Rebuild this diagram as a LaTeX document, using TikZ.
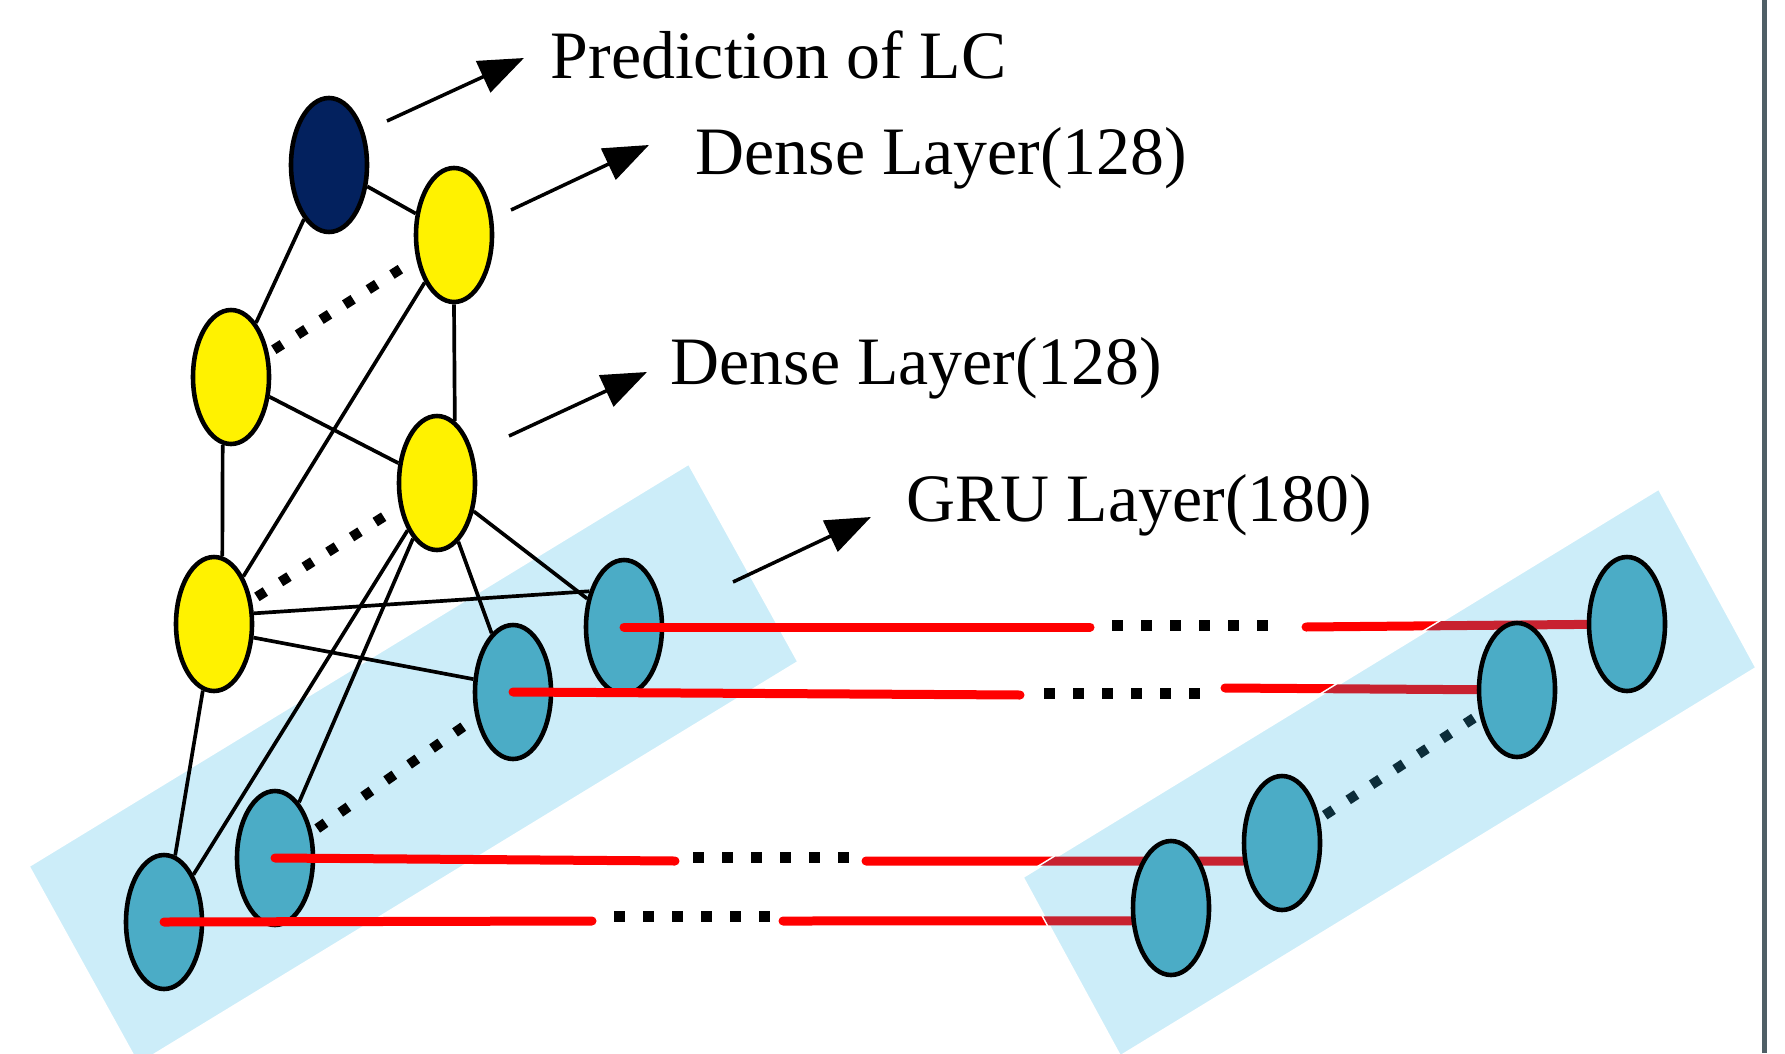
\documentclass[tikz,border=0pt]{standalone}
\usepackage{fontspec}
\setmainfont{Liberation Serif}
\usetikzlibrary{arrows.meta,shapes.geometric}

\definecolor{outblue}{RGB}{3,33,94}
\definecolor{grublue}{RGB}{75,172,198}
\definecolor{bandblue}{RGB}{204,237,249}
\definecolor{seqred}{RGB}{255,0,0}
\definecolor{seqdark}{RGB}{200,34,48}
\definecolor{dotteal}{RGB}{12,45,58}
\definecolor{rulegray}{RGB}{79,95,102}

\pgfdeclarelayer{front}
\pgfsetlayers{main,front}

\begin{document}
\begin{tikzpicture}[
    neuron/.style={ellipse, draw=black, line width=1.3pt, minimum width=0.76cm, minimum height=1.34cm, inner sep=0pt},
    link/.style={line width=1.05pt},
    skip/.style={line width=0.1cm, dash pattern=on 0.1cm off 0.18cm, shorten <=0.06cm, shorten >=0.06cm},
    seq/.style={seqred, line width=0.09cm, line cap=round},
    gap/.style={line width=0.11cm, dash pattern=on 0.11cm off 0.18cm},
    pointer/.style={line width=1pt, -{Triangle[length=4.5mm,width=3.4mm]}},
    lbl/.style={anchor=base west, inner sep=0pt, font=\fontsize{19.3}{23}\selectfont}]

    \useasboundingbox (0,0) rectangle (17.85,10.53);
    \clip (0,0) rectangle (17.85,10.53);

    % GRU units of the last time step, kept on top
    \begin{pgfonlayer}{front}
    \node[neuron, fill=grublue] (h1) at (16.27,4.29) {};
    \node[neuron, fill=grublue] (h2) at (15.17,3.63) {};
    \node[neuron, fill=grublue] (h3) at (12.82,2.10) {};
    \node[neuron, fill=grublue] (h4) at (11.71,1.45) {};
    \end{pgfonlayer}

    % band of the first time step
    \filldraw[fill=bandblue, draw=white, line width=0.9pt] (0.28,1.87) -- (6.89,5.90) -- (7.99,3.91) -- (1.38,-0.12) -- cycle;

    % output, dense and GRU units
    \node[neuron, fill=outblue] (out) at (3.29,8.88) {};
    \node[neuron, fill=yellow] (d2r) at (4.54,8.18) {};
    \node[neuron, fill=yellow] (d2l) at (2.31,6.76) {};
    \node[neuron, fill=yellow] (d1r) at (4.37,5.70) {};
    \node[neuron, fill=yellow] (d1l) at (2.14,4.29) {};
    \node[neuron, fill=grublue] (g1) at (6.24,4.26) {};
    \node[neuron, fill=grublue] (g2) at (5.13,3.61) {};
    \node[neuron, fill=grublue] (g3) at (2.75,1.95) {};
    \node[neuron, fill=grublue] (g4) at (1.64,1.31) {};

    \draw[link] (out) -- (d2r);
    \draw[link] (out) -- (d2l);
    \draw[link] (d2r.south) -- (d1r.74);
    \draw[link] (d2r) -- (d1l);
    \draw[link] (d2l) -- (d1r);
    \draw[link] (d2l.263) -- (d1l.83);
    \foreach \g in {g1,g2,g3,g4}
        \draw[link] (d1r) -- (\g);
    \draw[link] (d1l.15) -- (g1.134);
    \draw[link] (d1l.341) -- (g2.162);
    \draw[link] (d1l) -- (g4);

    \draw[skip] (d2l) -- (d2r);
    \draw[skip] (d1l) -- (d1r);
    \draw[skip] (g3) -- (g2);

    % sequences running through time
    \draw[seq] (g1.center) -- (10.90,4.26);
    \draw[gap] (11.12,4.28) -- (12.70,4.28);
    \draw[seq] (13.06,4.26) -- (h1);
    \draw[seq] (g2.center) -- (10.20,3.58);
    \draw[gap] (10.44,3.60) -- (12.00,3.60);
    \draw[seq] (12.25,3.65) -- (h2);
    \draw[seq] (g3.center) -- (6.75,1.92);
    \draw[gap] (6.93,1.96) -- (8.50,1.96);
    \draw[seq] (8.66,1.92) -- (h3.205);
    \draw[seq] (g4.center) -- (5.92,1.32);
    \draw[gap] (6.14,1.37) -- (7.72,1.37);
    \draw[seq] (7.83,1.32) -- (h4.198);

    % band of the last time step
    \coordinate (k1) at (10.22,1.76);
    \coordinate (k2) at (16.59,5.65);
    \coordinate (k3) at (17.57,3.85);
    \coordinate (k4) at (11.20,-0.04);
    \filldraw[fill=bandblue, draw=white, line width=0.9pt] (k1) -- (k2) -- (k3) -- (k4) -- cycle;
    \begin{scope}
        \clip (k1) -- (k2) -- (k3) -- (k4) -- cycle;
        \draw[seq, seqdark] (13.06,4.26) -- (h1);
        \draw[seq, seqdark] (12.25,3.65) -- (h2);
        \draw[seq, seqdark] (8.66,1.92) -- (h3.205);
        \draw[seq, seqdark] (7.83,1.32) -- (h4.198);
    \end{scope}
    \draw[skip, dotteal] (h3) -- (h2);

    % labels
    \node[lbl] (lout) at (5.50,9.74) {Prediction of LC};
    \node[lbl] (ld2) at (6.95,8.78) {Dense Layer(128)};
    \node[lbl] (ld1) at (6.70,6.69) {Dense Layer(128)};
    \node[lbl] (lgru) at (9.06,5.32) {GRU Layer(180)};

    \coordinate (a1) at (3.87,9.32);
    \coordinate (t1) at (5.24,9.95);
    \coordinate (a2) at (5.11,8.43);
    \coordinate (t2) at (6.49,9.08);
    \coordinate (a3) at (5.09,6.17);
    \coordinate (t3) at (6.47,6.81);
    \coordinate (a4) at (7.33,4.71);
    \coordinate (t4) at (8.71,5.36);
    \draw[pointer] (a1) -- (t1);
    \draw[pointer] (a2) -- (t2);
    \draw[pointer] (a3) -- (t3);
    \draw[pointer] (a4) -- (t4);

    \fill[rulegray] (17.62,0) rectangle (17.67,10.53);
\end{tikzpicture}
\end{document}
